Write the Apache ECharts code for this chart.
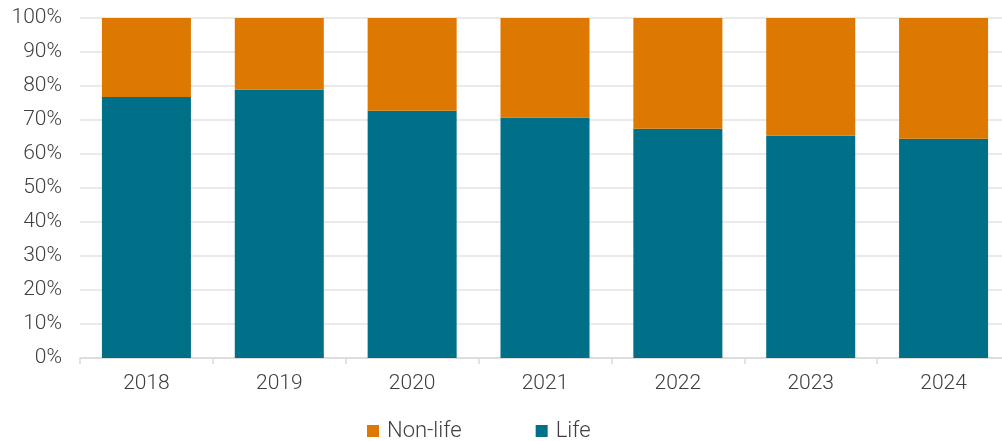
<!DOCTYPE html>
<html>
<head>
<meta charset="utf-8">
<script src="https://cdn.jsdelivr.net/npm/echarts@6/dist/echarts.min.js"></script>
<style>html,body{margin:0;padding:0;background:#fff}#c{width:1002px;height:441px}</style>
</head>
<body>
<div id="c"></div>
<script>
const categories = ['2018','2019','2020','2021','2022','2023','2024'];
const lifeValues = [76.8, 78.9, 72.7, 70.7, 67.4, 65.4, 64.5];
const nonLifeValues = [23.2, 21.1, 27.3, 29.3, 32.6, 34.6, 35.5];
const seriesNames = ['Non-life', 'Life'];

const chart = echarts.init(document.getElementById('c'), null, {renderer:'canvas'});
const font = 'Roboto, "Liberation Sans", sans-serif';
chart.setOption({
  animation: false,
  grid: {left: 80, width: 930, top: 18, height: 340, containLabel: false, outerBoundsMode: 'none'},
  legend: {
    top: 415, left: 362, itemGap: 74, itemWidth: 12, itemHeight: 12,
    data: [{name: seriesNames[0], icon: 'rect'}, {name: seriesNames[1], icon: 'rect'}],
    textStyle: {fontFamily: font, fontWeight: 300, fontSize: 22, color: '#404040', padding: [0, 0, 0, 3]}
  },
  xAxis: {
    type: 'category', data: categories,
    axisLine: {show: true, lineStyle: {color: '#d9d9d9', width: 1.5}},
    axisTick: {show: true, length: 6, lineStyle: {color: '#d9d9d9', width: 1.5}},
    axisLabel: {margin: 15, fontFamily: font, fontWeight: 300, fontSize: 21, color: '#404040'}
  },
  yAxis: {
    type: 'value', min: 0, max: 100, interval: 10,
    axisLine: {show: false}, axisTick: {show: false},
    splitLine: {lineStyle: {color: '#e3e3e3', width: 1.5}},
    axisLabel: {margin: 18, fontFamily: font, fontWeight: 300, fontSize: 21, color: '#404040', formatter: v => v + '%'}
  },
  series: [
    {name: seriesNames[1], type: 'bar', stack: 'a', data: lifeValues, barWidth: '67%', itemStyle: {color: '#006F88'}},
    {name: seriesNames[0], type: 'bar', stack: 'a', data: nonLifeValues, barWidth: '67%', itemStyle: {color: '#DD7800'}}
  ]
});
</script>
</body>
</html>
